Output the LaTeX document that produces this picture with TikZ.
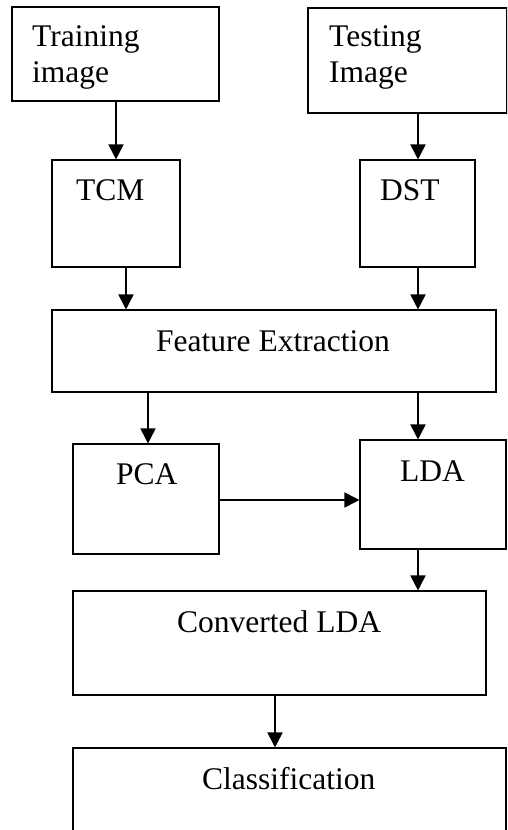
\documentclass[tikz,border=0pt]{standalone}
\usepackage{fontspec}
\setmainfont{Liberation Serif}
\usetikzlibrary{arrows.meta}
\begin{document}
\begin{tikzpicture}[x=1pt,y=-1pt,
  box/.style={draw=black,line width=1.1pt,rectangle,inner sep=0pt},
  lbl/.style={anchor=base west,inner sep=0pt,font=\fontsize{31.5}{36}\selectfont},
  arr/.style={line width=1.8pt,-{Triangle[length=15pt,width=15pt]}}]
\clip (0,0) rectangle (507,830);
\fill[white] (0,0) rectangle (507,830);
% boxes
\node[box,minimum width=207pt,minimum height=94pt] (train) at (115.5,54) {};
\node[box,minimum width=199pt,minimum height=105pt] (test) at (407.5,60.5) {};
\node[box,minimum width=128pt,minimum height=107pt] (tcm) at (116,213.5) {};
\node[box,minimum width=115pt,minimum height=107pt] (dst) at (417.5,213.5) {};
\node[box,minimum width=444pt,minimum height=82pt] (fe) at (274,351) {};
\node[box,minimum width=146pt,minimum height=110pt] (pca) at (146,499) {};
\node[box,minimum width=146pt,minimum height=109pt] (lda) at (433,494.5) {};
\node[box,minimum width=413pt,minimum height=104pt] (cl) at (279.5,643) {};
\node[box,minimum width=433pt,minimum height=120pt] (cls) at (289.5,808) {};
% labels
\node[lbl] (ttrain1) at (32,46) {Training};
\node[lbl] (ttrain2) at (32,82) {image};
\node[lbl] (ttest1) at (329,46) {Testing};
\node[lbl] (ttest2) at (329,82) {Image};
\node[lbl] (ttcm) at (76,200) {TCM};
\node[lbl] (tdst) at (380,200) {DST};
\node[lbl] (tfe) at (156,351) {Feature Extraction};
\node[lbl] (tpca) at (116,484) {PCA};
\node[lbl] (tlda) at (400,481) {LDA};
\node[lbl] (tcl) at (177,632) {Converted LDA};
\node[lbl] (tcls) at (202,789) {Classification};
% arrow x positions
\coordinate (xa) at (116,0);
\coordinate (xb) at (418,0);
\coordinate (xc) at (126,0);
\coordinate (xd) at (148,0);
\coordinate (xe) at (275,0);
\coordinate (ya) at (0,500);
% connectors
\draw[arr] (train.south -| xa) -- (tcm.north -| xa);
\draw[arr] (test.south -| xb) -- (dst.north -| xb);
\draw[arr] (tcm.south -| xc) -- (fe.north -| xc);
\draw[arr] (dst.south -| xb) -- (fe.north -| xb);
\draw[arr] (fe.south -| xd) -- (pca.north -| xd);
\draw[arr] (fe.south -| xb) -- (lda.north -| xb);
\draw[arr] (pca.east |- ya) -- (lda.west |- ya);
\draw[arr] (lda.south -| xb) -- (cl.north -| xb);
\draw[arr] (cl.south -| xe) -- (cls.north -| xe);
\end{tikzpicture}
\end{document}
